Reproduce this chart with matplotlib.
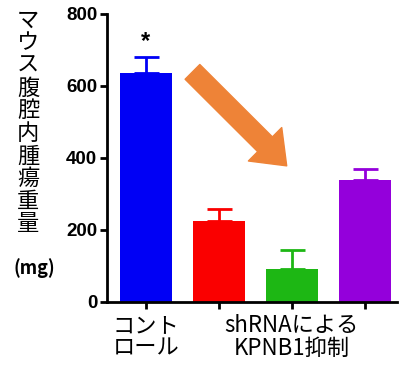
import matplotlib.pyplot as plt
import numpy as np

plt.rcParams['font.family'] = ['Noto Sans CJK JP', 'DejaVu Sans']

groups = ['control', 'sh1', 'sh2', 'sh3']
means = [636, 225, 92, 339]
errors = [44, 33, 53, 31]
colors = ['#0000F5', '#FA0000', '#1DB714', '#9400DB']
tick_labels = ['コント\nロール', '', 'shRNAによる\nKPNB1抑制', '']
y_ticks = [0, 200, 400, 600, 800]
ylabel_chars = 'マウス腹腔内腫瘍重量'

fig = plt.figure(figsize=(4, 3.66), dpi=100)
ax = fig.add_axes([0.2675, 0.175, 0.725, 0.787])

x = np.arange(len(groups))
for xi, m, e, c in zip(x, means, errors, colors):
    ax.bar(xi, m, width=0.71, color=c, zorder=2)
    ax.errorbar(xi, m, yerr=[[0], [e]], color=c, capsize=9, capthick=2, elinewidth=2, zorder=1)

ax.set_xlim(-0.53, 3.44)
ax.set_ylim(0, 800)
ax.set_yticks(y_ticks)
ax.set_yticklabels([str(v) for v in y_ticks], fontfamily='Liberation Sans', fontweight='bold', fontsize=13.5)
ax.set_xticks(x)
ax.set_xticklabels(tick_labels, fontsize=16, linespacing=0.95)
for s in ['top', 'right']:
    ax.spines[s].set_visible(False)
for s in ['left', 'bottom']:
    ax.spines[s].set_linewidth(2)
ax.tick_params(axis='both', width=2, length=5, color='black')
ax.tick_params(axis='y', pad=2)
ax.tick_params(axis='x', pad=4)

# significance mark
ax.text(0, means[0] + errors[0] + 10, '*', ha='center', va='bottom', fontsize=17, fontweight='bold',
        fontfamily='Liberation Sans')

# orange arrow
ax.annotate('', xy=(1.93, 378), xytext=(0.64, 639),
            arrowprops=dict(arrowstyle='simple,head_length=22,head_width=34,tail_width=15',
                            mutation_scale=1, color='#EE8337', shrinkA=0, shrinkB=0))

# vertical y label
fig.text(28 / 400, 1 - 122 / 366, '\n'.join(ylabel_chars), ha='center', va='center',
         fontsize=16, linespacing=0.98)
fig.text(34 / 400, 1 - 268 / 366, '(mg)', ha='center', va='center', fontsize=13, fontweight='bold')

fig.savefig('out.png', dpi=100)
